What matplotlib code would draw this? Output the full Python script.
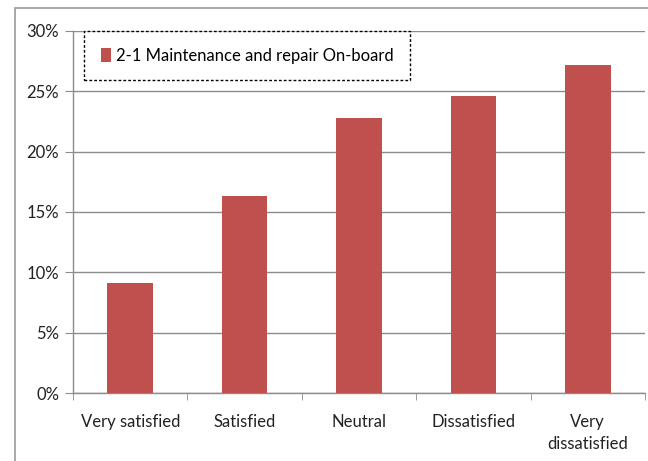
import numpy as np
import matplotlib
matplotlib.use("Agg")
import matplotlib.pyplot as plt
from matplotlib.patches import Rectangle
from matplotlib.ticker import FuncFormatter, MultipleLocator

categories = ["Very satisfied", "Satisfied", "Neutral", "Dissatisfied", "Very\ndissatisfied"]
values = [9.1, 16.3, 22.8, 24.6, 27.2]
series_name = "2-1 Maintenance and repair On-board"

bar_color = "#C0504D"
grid_color = "#8C8C8C"

plt.rcParams["font.family"] = ["Lato", "DejaVu Sans"]

fig = plt.figure(figsize=(6.48, 4.61), dpi=100)
ax = fig.add_axes([73 / 648, 1 - 393 / 461, (645 - 73) / 648, (393 - 31) / 461])

# outer chart frame
fig.patches.append(Rectangle((15 / 648, -0.1), 1.0, 1 - 8 / 461 + 0.1,
                             transform=fig.transFigure, fill=False,
                             edgecolor="#9A9A9A", linewidth=1.2))

x = np.arange(len(categories))
ax.bar(x, values, width=0.4, color=bar_color, label=series_name, zorder=3)

ax.set_xlim(-0.5, len(categories) - 0.5)
ax.set_ylim(0, 30)
ax.yaxis.set_major_locator(MultipleLocator(5))
ax.yaxis.set_major_formatter(FuncFormatter(lambda v, p: f"{v:.0f}%"))
ax.grid(axis="y", color=grid_color, linewidth=1.0, zorder=0)

ax.set_xticks(x)
ax.set_xticklabels(categories, linespacing=1.5)
ax.set_xticks(np.arange(-0.5, len(categories)), minor=True)
ax.tick_params(axis="x", which="major", length=0, pad=15, labelsize=12, colors="#222222")
ax.tick_params(axis="x", which="minor", length=5, color=grid_color)
ax.tick_params(axis="y", length=6, color=grid_color, pad=4, labelsize=12, labelcolor="#222222")

for side in ["top", "right"]:
    ax.spines[side].set_visible(False)
for side in ["left", "bottom"]:
    ax.spines[side].set_color(grid_color)
    ax.spines[side].set_linewidth(1.0)

leg = ax.legend(loc="upper left", bbox_to_anchor=(11 / 572, 1.0), fontsize=12,
                handlelength=0.6, handleheight=0.9, handletextpad=0.3,
                borderpad=1.0, borderaxespad=0, fancybox=False,
                framealpha=1, edgecolor="black")
leg.get_frame().set_linestyle((0, (2, 1.5)))
leg.get_frame().set_linewidth(1.0)

fig.savefig("out.png", dpi=100)
